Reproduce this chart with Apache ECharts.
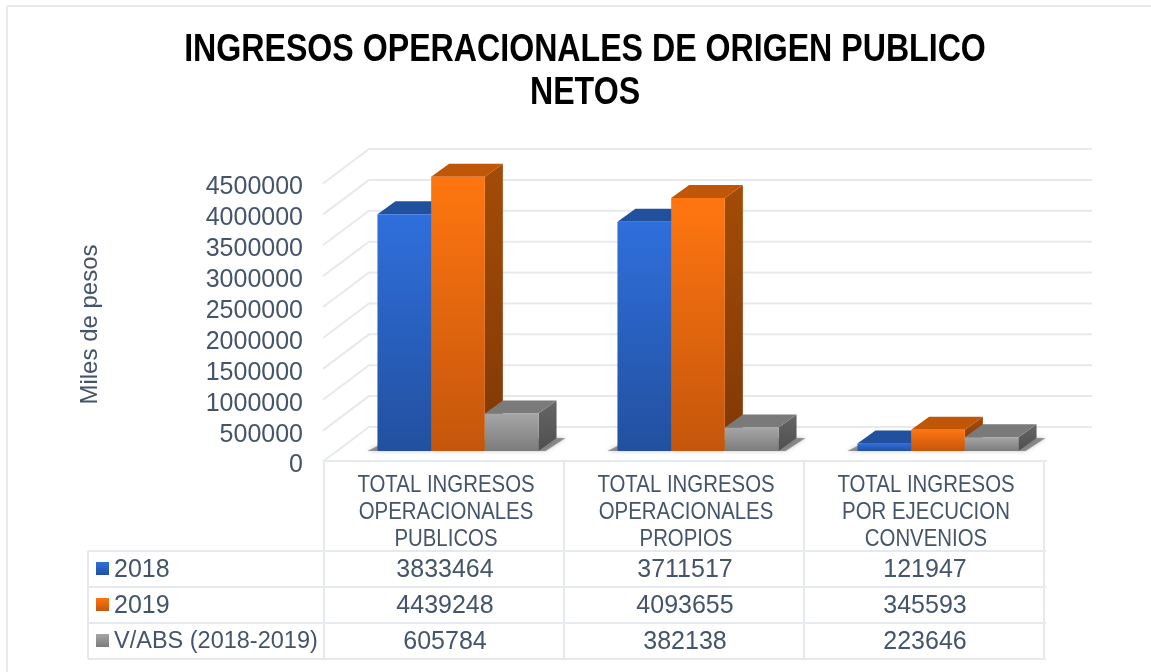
<!DOCTYPE html>
<html>
<head>
<meta charset="utf-8">
<style>
  html, body { margin: 0; padding: 0; background: #fff; }
  #chart { width: 1151px; height: 672px; }
</style>
<script src="https://cdn.jsdelivr.net/npm/echarts@6/dist/echarts.min.js"></script>
</head>
<body>
<div id="chart"></div>
<script>
const titleLines = ['INGRESOS OPERACIONALES DE ORIGEN PUBLICO', 'NETOS']
const yAxisName = 'Miles de pesos'
const categories = [
  'TOTAL INGRESOS\nOPERACIONALES\nPUBLICOS',
  'TOTAL INGRESOS\nOPERACIONALES\nPROPIOS',
  'TOTAL INGRESOS\nPOR EJECUCION\nCONVENIOS'
]
const seriesNames = ['2018', '2019', 'V/ABS (2018-2019)']
const values2018 = [3833464, 3711517, 121947]
const values2019 = [4439248, 4093655, 345593]
const valuesAbs = [605784, 382138, 223646]
const yTicks = [0, 500000, 1000000, 1500000, 2000000, 2500000, 3000000, 3500000, 4000000, 4500000]

const TEXT = '#44546a'
const LINE = '#e6e9ef'
const FONT = '"Liberation Sans", Arial, sans-serif'

// colores de cada serie: frente (arriba, abajo), tapa, lado (arriba, abajo)
const palette = [
  { front: ['#2f6fdc', '#22509f'], top: '#21509f', side: ['#1c4488', '#163669'] },
  { front: ['#ff7610', '#c4560c'], top: '#bf5608', side: ['#a44c08', '#803806'] },
  { front: ['#a6a6a6', '#7c7c7c'], top: '#7a7a7a', side: ['#666666', '#4f4f4f'] }
]

const vGrad = (c) => new echarts.graphic.LinearGradient(0, 0, 0, 1, [
  { offset: 0, color: c[0] },
  { offset: 1, color: c[1] }
])

// perspectiva falsa de Excel
const WALL_DX = 44
const WALL_DY = -33
const BAR_DX = 18
const BAR_DY = -13
const FLOOR_Y = -9
const BAR_W = 53.7
const GROUP_SHIFT = 13

const barRenderer = (seriesIndex) => (params, api) => {
  const idx = api.value(0)
  const p0 = api.coord([idx, 0])
  const p1 = api.coord([idx, api.value(1)])
  const c = palette[seriesIndex]
  const xl = p0[0] + GROUP_SHIFT + (seriesIndex - 1.5) * BAR_W
  const xr = xl + BAR_W
  const yb = p0[1] + FLOOR_Y
  const yt = p1[1] + FLOOR_Y
  return {
    type: 'group',
    children: [
      {
        type: 'polygon',
        shape: { points: [[xr, yb], [xr + BAR_DX, yb + BAR_DY], [xr + BAR_DX, yt + BAR_DY], [xr, yt]] },
        style: { fill: vGrad(c.side) }
      },
      {
        type: 'polygon',
        shape: { points: [[xl, yt], [xl + BAR_DX, yt + BAR_DY], [xr + BAR_DX, yt + BAR_DY], [xr, yt]] },
        style: { fill: c.top }
      },
      {
        type: 'rect',
        shape: { x: xl, y: yt, width: BAR_W, height: yb - yt },
        style: { fill: vGrad(c.front) }
      }
    ]
  }
}

const barSeries = (i, data) => ({
  name: seriesNames[i],
  type: 'custom',
  coordinateSystem: 'cartesian2d',
  z: 5 + i,
  encode: { x: 0, y: 1 },
  data: data.map((v, k) => [k, v]),
  renderItem: barRenderer(i)
})

// pared del fondo y piso
const wallSeries = {
  type: 'custom',
  coordinateSystem: 'cartesian2d',
  silent: true,
  z: 1,
  encode: { y: 0 },
  data: yTicks.map(v => [v]),
  renderItem: (params, api) => {
    const a = api.coord([0, api.value(0)])
    const left = a[0] - api.size([1, 0])[0] / 2
    const right = left + api.size([1, 0])[0] * categories.length
    return {
      type: 'polyline',
      shape: { points: [[left - 2, a[1] + 1.5], [left + WALL_DX, a[1] + WALL_DY], [right + WALL_DX + 3, a[1] + WALL_DY]] },
      style: { fill: 'none', stroke: LINE, lineWidth: 2 }
    }
  }
}

// sombra suave en el piso debajo de cada grupo
const shadowSeries = {
  type: 'custom',
  coordinateSystem: 'cartesian2d',
  silent: true,
  z: 2,
  encode: { x: 0 },
  data: categories.map((c, k) => [k]),
  renderItem: (params, api) => {
    const p = api.coord([api.value(0), 0])
    const xl = p[0] + GROUP_SHIFT - 1.5 * BAR_W
    const xr = xl + BAR_W * 3
    const yb = p[1] + FLOOR_Y
    return {
      type: 'polygon',
      shape: { points: [[xl - 10, yb], [xl + 6, yb - 8], [xr + 18, yb - 13], [xr + 27, yb - 13], [xr + 7, yb]] },
      style: { fill: 'rgba(85,85,85,0.6)', shadowBlur: 4, shadowColor: 'rgba(85,85,85,0.6)' }
    }
  }
}

// rotulos de categoria: la fuente original es condensada, se comprime a lo ancho
const categoryLabelSeries = {
  type: 'custom',
  coordinateSystem: 'cartesian2d',
  silent: true,
  z: 3,
  encode: { x: 0 },
  data: categories.map((c, k) => [k]),
  renderItem: (params, api) => {
    const p = api.coord([api.value(0), 0])
    return {
      type: 'text',
      x: p[0] + 1,
      y: p[1] + 52,
      scaleX: 0.85,
      style: {
        text: categories[params.dataIndex],
        fill: TEXT,
        font: '24px ' + FONT,
        lineHeight: 27,
        textAlign: 'center',
        textVerticalAlign: 'middle'
      }
    }
  }
}

// tabla de datos debajo del grafico
const TABLE_LEFT = 88
const COL_X = [324, 564, 804, 1044]
const ROW_Y = [551, 587, 623, 659]
const tableValues = [values2018, values2019, valuesAbs]

const tableGraphics = () => {
  const out = []
  const line = (x1, y1, x2, y2) => out.push({
    type: 'line',
    silent: true,
    shape: { x1, y1, x2, y2 },
    style: { stroke: LINE, lineWidth: 2 }
  })
  // marco exterior
  line(7, 6, 1151, 6)
  line(7, 6, 7, 672)
  // titulo, comprimido igual que los rotulos
  titleLines.forEach((t, i) => out.push({
    type: 'text',
    x: 585,
    y: 50 + i * 43,
    scaleX: 0.824,
    style: { text: t, fill: '#000', font: 'bold 39px ' + FONT, textAlign: 'center', textVerticalAlign: 'middle' }
  }))
  ROW_Y.forEach(y => line(TABLE_LEFT, y, COL_X[3] + 2, y))
  line(TABLE_LEFT, ROW_Y[0], TABLE_LEFT, ROW_Y[3])
  COL_X.forEach(x => line(x, 461, x, ROW_Y[3]))
  line(COL_X[0] - 1, 461, COL_X[3] + 3, 461)
  seriesNames.forEach((name, r) => {
    const cy = (ROW_Y[r] + ROW_Y[r + 1]) / 2 + 1
    out.push({
      type: 'rect',
      shape: { x: 96, y: cy - 8, width: 13, height: 13 },
      style: { fill: vGrad(palette[r].front) }
    })
    out.push({
      type: 'text',
      x: 114,
      y: cy,
      style: { text: name, fill: TEXT, font: (r === 2 ? '23.5px ' : '25px ') + FONT, textVerticalAlign: 'middle' }
    })
    tableValues[r].forEach((v, c) => {
      out.push({
        type: 'text',
        x: (COL_X[c] + COL_X[c + 1]) / 2 + 1,
        y: cy,
        style: { text: String(v), fill: TEXT, font: '25px ' + FONT, textAlign: 'center', textVerticalAlign: 'middle' }
      })
    })
  })
  return out
}

const chart = echarts.init(document.getElementById('chart'), null, { renderer: 'canvas' })

chart.setOption({
  animation: false,
  backgroundColor: '#fff',
  textStyle: { fontFamily: FONT },
  grid: { left: 325, right: 106, top: 182, bottom: 212 },
  xAxis: {
    type: 'category',
    data: categories,
    axisLine: { show: false },
    axisTick: { show: false },
    axisLabel: { show: false }
  },
  yAxis: {
    type: 'value',
    min: 0,
    max: 4500000,
    interval: 500000,
    name: yAxisName,
    nameLocation: 'middle',
    nameGap: 223,
    nameTextStyle: { color: TEXT, fontSize: 24, padding: [0, 7, 0, 0] },
    axisLine: { show: false },
    axisTick: { show: false },
    splitLine: { show: false },
    axisLabel: {
      color: TEXT,
      fontSize: 25,
      margin: 22,
      verticalAlign: 'top',
      lineHeight: 11,
      formatter: (v) => String(v)
    }
  },
  graphic: tableGraphics(),
  series: [
    wallSeries,
    shadowSeries,
    categoryLabelSeries,
    barSeries(0, values2018),
    barSeries(1, values2019),
    barSeries(2, valuesAbs)
  ]
})
</script>
</body>
</html>
